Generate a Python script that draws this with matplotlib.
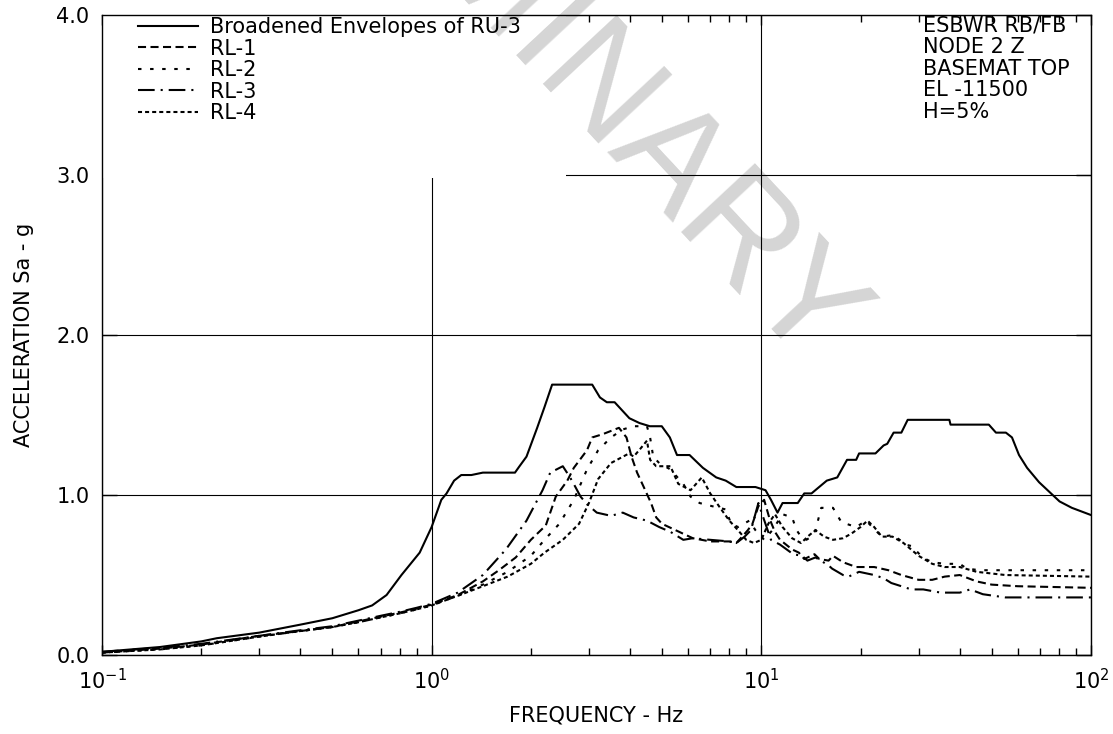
"""Plots floor response spectra, ESBWR RB/FB node 2 Z."""

# ---------- Imports ---------- #
import matplotlib

matplotlib.use("Agg")
import matplotlib.pyplot as plt
from matplotlib.patches import Rectangle
from matplotlib.ticker import FixedLocator, FormatStrFormatter, LogLocator

# ---------- Data ---------- #
env_freq = [0.1, 0.15, 0.2, 0.223, 0.3, 0.4, 0.5, 0.6, 0.66, 0.73, 0.81, 0.92, 1.0,
            1.07, 1.11, 1.17, 1.23, 1.32, 1.43, 1.79, 1.84, 1.94, 2.09, 2.2, 2.32,
            3.07, 3.24, 3.4, 3.59, 3.98, 4.27, 4.59, 4.99, 5.28, 5.55, 6.06, 6.65,
            7.3, 7.8, 8.4, 9.6, 10.3, 10.7, 11.2, 11.6, 12.9, 13.5, 14.2, 15.8, 17.0,
            18.2, 19.4, 19.8, 22.2, 23.5, 24.1, 25.2, 26.6, 27.8, 37.2, 37.5, 49.0,
            51.5, 55.2, 57.6, 60.5, 64.0, 69.6, 80.3, 87.5, 100.0]
env_acc = [0.02, 0.05, 0.085, 0.105, 0.14, 0.19, 0.23, 0.28, 0.31, 0.375, 0.50, 0.64,
           0.80, 0.97, 1.01, 1.09, 1.125, 1.125, 1.14, 1.14, 1.175, 1.24, 1.42, 1.55,
           1.69, 1.69, 1.61, 1.58, 1.58, 1.48, 1.45, 1.43, 1.43, 1.36, 1.25, 1.25,
           1.17, 1.11, 1.09, 1.05, 1.05, 1.03, 0.97, 0.89, 0.95, 0.95, 1.01, 1.01,
           1.09, 1.11, 1.22, 1.22, 1.26, 1.26, 1.31, 1.32, 1.39, 1.39, 1.47, 1.47,
           1.44, 1.44, 1.39, 1.39, 1.36, 1.25, 1.17, 1.08, 0.96, 0.92, 0.875]

rl1_freq = [0.1, 0.15, 0.2, 0.3, 0.4, 0.5, 0.6, 0.7, 0.8, 0.9, 1.0, 1.2, 1.43, 1.6,
            1.8, 2.0, 2.22, 2.38, 2.58, 2.7, 2.96, 3.07, 3.3, 3.7, 3.9, 4.04, 4.2,
            4.4, 4.63, 4.8, 5.0, 5.5, 6.2, 7.0, 8.0, 8.4, 8.75, 9.1, 9.4, 9.8, 10.2,
            10.6, 11.0, 11.4, 12.4, 13.0, 13.5, 14.5, 15.0, 16.0, 16.5, 17.7, 19.4,
            22.0, 24.3, 26.6, 30.0, 33.0, 36.0, 40.0, 45.0, 50.0, 60.0, 100.0]
rl1_acc = [0.015, 0.04, 0.065, 0.12, 0.15, 0.175, 0.21, 0.24, 0.265, 0.29, 0.315,
           0.375, 0.46, 0.53, 0.61, 0.72, 0.81, 0.99, 1.09, 1.17, 1.28, 1.36, 1.38,
           1.42, 1.36, 1.24, 1.14, 1.05, 0.95, 0.86, 0.82, 0.78, 0.73, 0.71, 0.71,
           0.70, 0.74, 0.78, 0.82, 0.93, 0.97, 0.85, 0.77, 0.72, 0.66, 0.64, 0.60,
           0.63, 0.60, 0.59, 0.62, 0.58, 0.55, 0.55, 0.53, 0.50, 0.47, 0.47, 0.49,
           0.50, 0.46, 0.44, 0.43, 0.42]

rl2_freq = [0.1, 0.15, 0.2, 0.3, 0.4, 0.5, 0.6, 0.7, 0.8, 0.9, 1.0, 1.2, 1.43, 1.7,
            2.0, 2.2, 2.44, 2.7, 2.96, 3.2, 3.5, 3.8, 4.1, 4.5, 4.6, 4.7, 4.9, 5.3,
            5.8, 6.1, 6.5, 7.1, 7.8, 8.1, 8.5, 9.2, 9.6, 10.2, 10.8, 11.6, 12.4,
            12.8, 13.3, 13.7, 14.2, 14.6, 15.2, 16.5, 17.5, 19.4, 20.8, 21.7, 23.2,
            25.2, 27.4, 28.7, 30.8, 33.0, 36.0, 40.0, 42.0, 46.0, 100.0]
rl2_acc = [0.015, 0.035, 0.06, 0.115, 0.15, 0.175, 0.205, 0.235, 0.26, 0.285, 0.31,
           0.37, 0.44, 0.52, 0.62, 0.72, 0.82, 0.97, 1.16, 1.28, 1.36, 1.41, 1.43,
           1.43, 1.36, 1.24, 1.20, 1.16, 1.07, 0.99, 0.95, 0.93, 0.91, 0.82, 0.80,
           0.84, 0.78, 0.72, 0.78, 0.88, 0.86, 0.78, 0.73, 0.72, 0.74, 0.78, 0.92,
           0.92, 0.83, 0.80, 0.84, 0.80, 0.74, 0.75, 0.69, 0.68, 0.61, 0.58, 0.57,
           0.57, 0.54, 0.53, 0.53]

rl3_freq = [0.1, 0.15, 0.2, 0.3, 0.4, 0.5, 0.6, 0.7, 0.8, 0.9, 1.0, 1.2, 1.43, 1.68,
            1.94, 2.17, 2.29, 2.5, 2.63, 2.73, 2.83, 2.97, 3.17, 3.5, 3.8, 4.1, 4.5,
            4.9, 5.3, 5.8, 6.2, 7.0, 8.0, 8.4, 8.9, 9.3, 9.8, 10.1, 10.7, 11.4, 12.5,
            13.3, 13.8, 14.6, 16.0, 16.4, 17.7, 18.4, 19.8, 22.0, 23.5, 24.8, 26.6,
            28.5, 31.0, 35.0, 40.0, 43.0, 47.0, 55.0, 100.0]
rl3_acc = [0.02, 0.045, 0.07, 0.12, 0.155, 0.18, 0.215, 0.245, 0.27, 0.295, 0.32,
           0.39, 0.50, 0.66, 0.84, 1.03, 1.14, 1.18, 1.11, 1.05, 0.99, 0.94, 0.89,
           0.87, 0.89, 0.86, 0.84, 0.80, 0.77, 0.72, 0.73, 0.72, 0.71, 0.70, 0.74,
           0.78, 0.95, 0.87, 0.72, 0.69, 0.63, 0.62, 0.59, 0.61, 0.56, 0.54, 0.50,
           0.49, 0.52, 0.50, 0.48, 0.45, 0.43, 0.41, 0.41, 0.39, 0.39, 0.41, 0.38,
           0.36, 0.36]

rl4_freq = [0.1, 0.15, 0.2, 0.3, 0.4, 0.5, 0.6, 0.7, 0.8, 0.9, 1.0, 1.2, 1.43, 1.7,
            2.0, 2.2, 2.5, 2.8, 3.0, 3.2, 3.5, 3.97, 4.1, 4.3, 4.5, 4.6, 4.8, 5.3,
            5.6, 6.1, 6.6, 7.0, 7.5, 8.0, 8.5, 9.0, 9.5, 10.0, 10.5, 11.0, 11.6,
            12.4, 13.2, 14.0, 14.6, 15.5, 16.5, 17.7, 18.8, 20.0, 21.0, 22.0, 23.2,
            25.0, 27.0, 30.0, 33.0, 36.0, 40.0, 45.0, 55.0, 100.0]
rl4_acc = [0.015, 0.035, 0.06, 0.115, 0.15, 0.175, 0.205, 0.235, 0.26, 0.285, 0.31,
           0.37, 0.43, 0.49, 0.57, 0.64, 0.72, 0.82, 0.95, 1.10, 1.20, 1.26, 1.24,
           1.29, 1.34, 1.22, 1.18, 1.18, 1.07, 1.03, 1.11, 1.01, 0.92, 0.84, 0.78,
           0.72, 0.70, 0.72, 0.82, 0.88, 0.80, 0.73, 0.70, 0.75, 0.78, 0.74, 0.72,
           0.73, 0.76, 0.80, 0.84, 0.80, 0.74, 0.74, 0.70, 0.62, 0.57, 0.55, 0.55,
           0.52, 0.50, 0.49]

series_labels = ["Broadened Envelopes of RU-3", "RL-1", "RL-2", "RL-3", "RL-4"]
info_lines = ["ESBWR RB/FB", "NODE 2 Z", "BASEMAT TOP", "EL -11500", "H=5%"]
y_ticks = [0.0, 1.0, 2.0, 3.0, 4.0]
x_ticks = [0.1, 1.0, 10.0, 100.0]

# ---------- Style Config ---------- #
plt.rcParams["font.family"] = ["DejaVu Sans"]
plt.rcParams["lines.scale_dashes"] = False
FONT_SIZE = 15
LINE_WIDTH = 1.5
series_styles = [
    "-",
    (0, (5.8, 3.2)),
    (0, (2.5, 6.2)),
    (0, (12.0, 4.3, 1.5, 4.3)),
    (0, (2.9, 2.2)),
]


# ---------- Helper Functions ---------- #
def style_axes(ax):
    """Log x axis, fixed y axis, inward ticks and major grid."""
    ax.set_xscale("log")
    ax.set_xlim(0.1, 100)
    ax.set_ylim(0, 4)
    ax.xaxis.set_major_locator(FixedLocator(x_ticks))
    ax.xaxis.set_minor_locator(LogLocator(base=10, subs=range(2, 10)))
    ax.yaxis.set_major_locator(FixedLocator(y_ticks))
    ax.yaxis.set_major_formatter(FormatStrFormatter("%.1f"))
    ax.tick_params(which="both", direction="in", top=True, right=True,
                   labelsize=FONT_SIZE, width=1)
    ax.tick_params(axis="x", which="major", length=7, pad=9)
    ax.tick_params(axis="x", which="minor", length=5)
    ax.tick_params(axis="y", which="major", length=11, pad=9)
    ax.grid(True, which="major", color="black", linewidth=0.8)
    for spine in ax.spines.values():
        spine.set_linewidth(1.0)
    ax.set_xlabel("FREQUENCY - Hz", fontsize=FONT_SIZE, labelpad=9)
    ax.set_ylabel("ACCELERATION Sa - g", fontsize=FONT_SIZE, labelpad=16)


def add_info_text(ax):
    """Right-hand block of plot descriptors."""
    for i, line in enumerate(info_lines):
        ax.text(0.830, 0.983 - i * 0.0336, line, transform=ax.transAxes,
                fontsize=FONT_SIZE, ha="left", va="center", zorder=5)


def add_watermark(fig):
    """Grey diagonal draft stamp."""
    fig.text(0.445, 1.012, "PRELIMINARY", fontsize=105, color="black", alpha=0.17,
             family="Liberation Sans", rotation=-47, rotation_mode="anchor",
             ha="center", va="center", zorder=20)


# ---------- Main Function ---------- #
def main():
    fig = plt.figure(figsize=(11.13, 7.34), dpi=100)
    ax = fig.add_axes([0.0916, 0.1076, 0.8886, 0.8719])
    style_axes(ax)

    # white block behind legend hides the grid there
    ax.add_patch(Rectangle((0, 0.745), 0.469, 0.26, transform=ax.transAxes,
                           facecolor="white", edgecolor="none", zorder=2.5,
                           clip_on=False))

    curves = [(env_freq, env_acc), (rl1_freq, rl1_acc), (rl2_freq, rl2_acc),
              (rl3_freq, rl3_acc), (rl4_freq, rl4_acc)]
    for (freq, acc), label, ls in zip(curves, series_labels, series_styles):
        ax.plot(freq, acc, color="black", linewidth=LINE_WIDTH, linestyle=ls,
                label=label, zorder=3)

    ax.legend(loc="upper left", bbox_to_anchor=(0.034, 1.0), frameon=False,
              fontsize=FONT_SIZE, handlelength=2.9, handletextpad=0.55,
              labelspacing=0.07, borderpad=0.1, borderaxespad=0.0)
    add_info_text(ax)
    add_watermark(fig)

    fig.savefig("out.png", dpi=100)
    plt.close(fig)
    return 0


if __name__ == "__main__":
    main()
